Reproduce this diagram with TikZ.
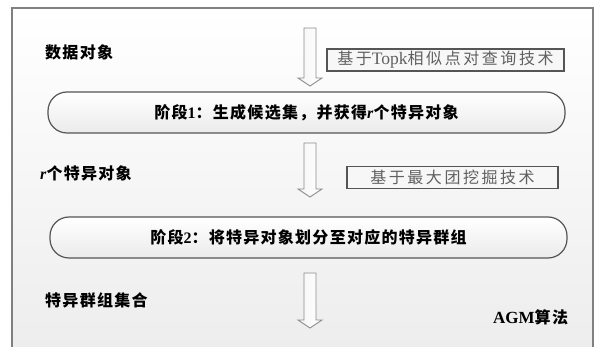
\documentclass[tikz,border=0pt]{standalone}
\usepackage{fontspec}
\setmainfont{Liberation Serif}
\newfontfamily\cjk{Noto Sans CJK SC}
\newfontfamily\cjkb{Noto Sans CJK SC Bold}[LetterSpace=8]
\newfontfamily\cjkg{Noto Sans CJK SC}[LetterSpace=16]
\usetikzlibrary{shadings}
\definecolor{framec}{HTML}{808080}
\definecolor{edgec}{HTML}{555555}
\definecolor{arrowc}{HTML}{8C8C8C}
\definecolor{graytext}{HTML}{606060}
\tikzset{
  lbl/.style={anchor=west, inner sep=0pt, font=\fontsize{16}{18}\selectfont\bfseries},
  stagebox/.style={draw=edgec, line width=1.2pt, rounded corners=19pt, top color=white, bottom color=black!8, minimum height=41pt, inner sep=0pt, font=\fontsize{16}{18}\selectfont\bfseries},
  techbox/.style={draw=edgec, line width=1.1pt, fill=black!3, minimum height=22pt, inner sep=0pt, text=graytext, font=\fontsize{16}{18}\selectfont},
  hollow/.style={draw=arrowc, line width=0.9pt, left color=black!4, right color=white, line join=miter}
}
\newcommand{\downarrowshape}[3]{% x, top y, tip y
  \path[hollow] (#1-6,#2) -- (#1+6,#2) -- (#1+6,#3-8) -- (#1+12,#3-8) -- (#1,#3) -- (#1-12,#3-8) -- (#1-6,#3-8) -- cycle;
}
\begin{document}
\begin{tikzpicture}[x=1pt,y=-1pt]
\useasboundingbox (0,0) rectangle (598,347);
\fill[white] (0,0) rectangle (598,347);
\shade[top color=white, bottom color=black!7] (12,8) rectangle (593,347);
\draw[framec, line width=1.2pt] (12,347) -- (12,8) -- (593,8) -- (593,347);

\node[lbl] (data) at (45,52) {\cjkb 数据对象};
\node[lbl] (robj) at (40,173) {\textit{r}\cjkb 个特异对象};
\node[lbl] (groups) at (45,300) {\cjkb 特异群组集合};
\node[lbl] (agm) at (493,317) {{\fontsize{17}{18}\selectfont AGM}\cjkb 算法};

\node[techbox, minimum width=237pt] (tech1) at (445.5,60) {\cjkg 基于{\rmfamily\fontsize{17.5}{18}\selectfont Topk}相似点对查询技术};
\node[techbox, minimum width=211pt] (tech2) at (452.5,177.5) {\cjkg 基于最大团挖掘技术};

\node[stagebox, minimum width=517pt] (s1) at (306.5,112.5) {\cjkb 阶段{\rmfamily 1}：生成候选集，并获得{\rmfamily\textit{r}}个特异对象};
\node[stagebox, minimum width=517pt] (s2) at (308.5,237.5) {\cjkb 阶段{\rmfamily 2}：将特异对象划分至对应的特异群组};

\downarrowshape{310}{28}{86}
\downarrowshape{310}{143}{197}
\downarrowshape{310}{273}{328}
\end{tikzpicture}
\end{document}
